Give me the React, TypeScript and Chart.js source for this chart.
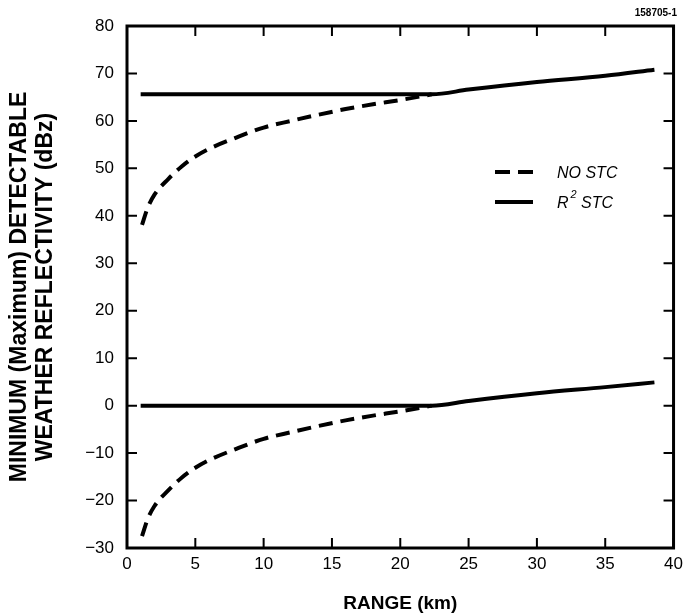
import React, { useEffect, useRef } from "react";
import { Chart, registerables } from "chart.js";

Chart.register(...registerables);

const dashX = [1.1, 1.5, 2, 3, 4, 5, 6, 8, 10, 12, 14, 16, 18, 20, 22.3];
const upperNoStc = [38.1, 41.6, 44.4, 47.7, 50.4, 52.5, 54.1, 56.5, 58.6, 60.0, 61.3, 62.5, 63.5, 64.4, 65.6];
const lowerNoStc = [-27.5, -24.0, -21.2, -17.9, -15.2, -13.1, -11.5, -9.1, -7.0, -5.6, -4.3, -3.1, -2.1, -1.2, 0];

const solidX = [1, 22.3, 25, 30, 35, 38.6];
const upperR2 = [65.6, 65.6, 66.6, 68.2, 69.5, 70.8];
const lowerR2 = [0, 0, 1.0, 2.6, 3.9, 4.9];

const xMin = 0, xMax = 40, xStep = 5;
const yMin = -30, yMax = 80, yStep = 10;

const FONT = "'Liberation Sans', Arial, Helvetica, sans-serif";

const pts = (xs: number[], ys: number[]) => xs.map((x, i) => ({ x, y: ys[i] }));

const framePlugin = {
  id: "frame",
  afterDatasetsDraw(chart: any) {
    const { ctx, chartArea: a, scales } = chart;
    const xs = scales.x, ys = scales.y;
    ctx.save();
    ctx.strokeStyle = "#000";
    ctx.lineWidth = 3;
    ctx.strokeRect(a.left, a.top, a.right - a.left, a.bottom - a.top);
    ctx.lineWidth = 2;
    const tl = 10;
    ctx.beginPath();
    xs.ticks.forEach((t: any) => {
      const px = xs.getPixelForValue(t.value);
      ctx.moveTo(px, a.bottom);
      ctx.lineTo(px, a.bottom - tl);
      ctx.moveTo(px, a.top);
      ctx.lineTo(px, a.top + tl);
    });
    ys.ticks.forEach((t: any) => {
      const py = ys.getPixelForValue(t.value);
      ctx.moveTo(a.left, py);
      ctx.lineTo(a.left + tl, py);
      ctx.moveTo(a.right, py);
      ctx.lineTo(a.right - tl, py);
    });
    ctx.stroke();

    // legend
    ctx.lineWidth = 4;
    ctx.lineCap = "butt";
    ctx.setLineDash([15, 8]);
    ctx.beginPath();
    ctx.moveTo(495, 172);
    ctx.lineTo(533, 172);
    ctx.stroke();
    ctx.setLineDash([]);
    ctx.beginPath();
    ctx.moveTo(495, 202);
    ctx.lineTo(533, 202);
    ctx.stroke();
    ctx.fillStyle = "#000";
    ctx.textBaseline = "alphabetic";
    ctx.textAlign = "left";
    ctx.font = `italic 16px ${FONT}`;
    ctx.fillText("NO STC", 557, 178);
    ctx.fillText("R", 557, 208);
    const rw = ctx.measureText("R").width;
    ctx.font = `italic 11px ${FONT}`;
    ctx.fillText("2", 557 + rw + 2, 198);
    const tw = ctx.measureText("2").width;
    ctx.font = `italic 16px ${FONT}`;
    ctx.fillText(" STC", 557 + rw + 2 + tw, 208);

    // figure id
    ctx.font = `bold 10px ${FONT}`;
    ctx.textAlign = "right";
    ctx.fillText("158705-1", 677, 16);
    ctx.restore();
  },
};

export default function App() {
  const ref = useRef<HTMLCanvasElement>(null);
  useEffect(() => {
    const chart = new Chart(ref.current!, {
      type: "line",
      data: {
        datasets: [
          { label: "NO STC", data: pts(dashX, upperNoStc), borderColor: "#000", borderWidth: 4, borderDash: [14, 8], pointRadius: 0, cubicInterpolationMode: "monotone", fill: false },
          { label: "NO STC low", data: pts(dashX, lowerNoStc), borderColor: "#000", borderWidth: 4, borderDash: [14, 8], pointRadius: 0, cubicInterpolationMode: "monotone", fill: false },
          { label: "R2 STC", data: pts(solidX, upperR2), borderColor: "#000", borderWidth: 4, pointRadius: 0, cubicInterpolationMode: "monotone", fill: false },
          { label: "R2 STC low", data: pts(solidX, lowerR2), borderColor: "#000", borderWidth: 4, pointRadius: 0, cubicInterpolationMode: "monotone", fill: false },
        ],
      } as any,
      options: {
        animation: false,
        responsive: true,
        maintainAspectRatio: false,
        layout: { padding: { top: 26, right: 13, left: 0, bottom: 0 } },
        plugins: { legend: { display: false }, tooltip: { enabled: false } },
        scales: {
          x: {
            type: "linear",
            min: xMin,
            max: xMax,
            ticks: { stepSize: xStep, color: "#000", font: { family: FONT, size: 17 }, padding: 6, maxRotation: 0 },
            grid: { display: false, drawTicks: false },
            border: { display: false },
            title: { display: true, text: "RANGE (km)", color: "#000", font: { family: FONT, size: 19, weight: "bold" }, padding: { top: 4, bottom: 0 } },
            afterFit: (s: any) => { s.height = 67; },
          },
          y: {
            type: "linear",
            min: yMin,
            max: yMax,
            ticks: {
              stepSize: yStep,
              color: "#000",
              font: { family: FONT, size: 17 },
              padding: 13,
              callback: (v: any) => String(v).replace("-", "\u2212"),
            },
            grid: { display: false, drawTicks: false },
            border: { display: false },
            title: {
              display: true,
              text: ["MINIMUM (Maximum) DETECTABLE", "WEATHER REFLECTIVITY (dBz)"],
              color: "#000",
              font: { family: FONT, size: 23, weight: "bold", lineHeight: 1.15 },
              padding: { top: 6, bottom: 0 },
            },
            afterFit: (s: any) => { s.width = 127; },
          },
        },
      } as any,
      plugins: [framePlugin],
    });
    return () => chart.destroy();
  }, []);
  return (
    <div style={{ position: "fixed", left: 0, top: 0, width: 689, height: 615, background: "#fff" }}>
      <canvas ref={ref} />
    </div>
  );
}
